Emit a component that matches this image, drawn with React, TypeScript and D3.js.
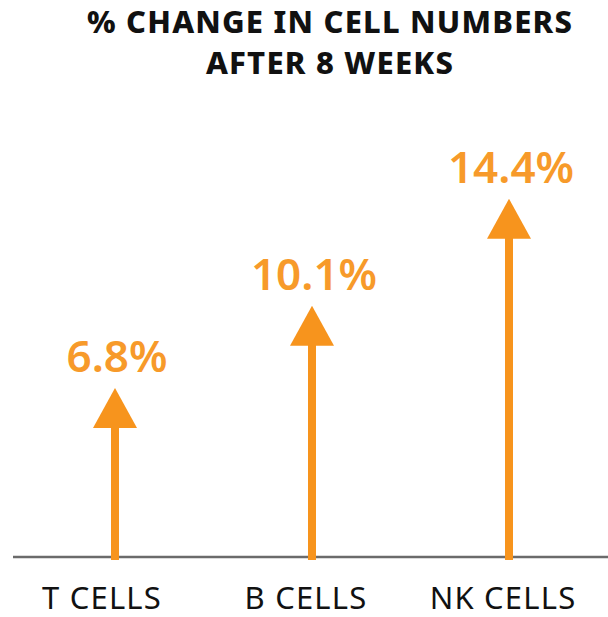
import React, { useEffect, useRef } from 'react';
import * as d3 from 'd3';

const categories = ['T CELLS', 'B CELLS', 'NK CELLS'];
const values = [6.8, 10.1, 14.4];
const valueLabels = ['6.8%', '10.1%', '14.4%'];
const titleLines = ['% CHANGE IN CELL NUMBERS', 'AFTER 8 WEEKS'];

const ORANGE = '#F7941D';

export default function App() {
  const svgRef = useRef<SVGSVGElement>(null);
  const width = 608;
  const height = 617;

  useEffect(() => {
    if (!svgRef.current) return;
    const svg = d3.select(svgRef.current);
    svg.selectAll('*').remove();

    const baseY = 557;

    // Scales
    const xScale = d3
      .scalePoint<string>()
      .domain(categories)
      .range([115, 509]);

    const yScale = d3
      .scaleLinear()
      .domain([0, 16])
      .range([baseY, baseY - 16 * 24.87]);

    // Title
    svg.append('g')
      .selectAll('text')
      .data(titleLines)
      .join('text')
      .attr('x', 330)
      .attr('y', (_, i) => 33 + i * 41)
      .attr('text-anchor', 'middle')
      .attr('font-family', "'Noto Sans', sans-serif")
      .attr('font-weight', 800)
      .attr('font-size', '31px')
      .attr('letter-spacing', '1.2px')
      .attr('fill', '#111')
      .text(d => d);

    // Baseline
    svg.append('line')
      .attr('x1', 13)
      .attr('x2', width)
      .attr('y1', baseY)
      .attr('y2', baseY)
      .attr('stroke', '#6b6b6b')
      .attr('stroke-width', 2.5);

    const headH = 40;
    const headW = 44;
    const shaftW = 8;

    const arrows = svg.append('g')
      .selectAll('g')
      .data(values)
      .join('g');

    // Shafts
    arrows.append('rect')
      .attr('x', (_, i) => xScale(categories[i])! - shaftW / 2)
      .attr('y', d => yScale(d) + headH - 2)
      .attr('width', shaftW)
      .attr('height', d => baseY + 3 - (yScale(d) + headH - 2))
      .attr('fill', ORANGE);

    // Heads
    arrows.append('path')
      .attr('d', (d, i) => {
        const x = xScale(categories[i])!;
        const y = yScale(d);
        return d3.line()([
          [x, y],
          [x + headW / 2, y + headH],
          [x - headW / 2, y + headH],
        ]) + 'Z';
      })
      .attr('fill', ORANGE);

    // Value labels
    arrows.append('text')
      .attr('x', (_, i) => xScale(categories[i])! + 2)
      .attr('y', d => yScale(d) - 16)
      .attr('text-anchor', 'middle')
      .attr('font-family', "'Noto Sans', sans-serif")
      .attr('font-weight', 600)
      .attr('font-size', '44px')
      .attr('fill', '#F79A2A')
      .text((_, i) => valueLabels[i]);

    // Category labels
    svg.append('g')
      .selectAll('text')
      .data(categories)
      .join('text')
      .attr('x', d => xScale(d)! - (d === 'T CELLS' ? 13 : 6))
      .attr('y', 609)
      .attr('text-anchor', 'middle')
      .attr('font-family', "'Noto Sans', sans-serif")
      .attr('font-weight', 400)
      .attr('font-size', '31px')
      .attr('letter-spacing', '1.2px')
      .attr('fill', '#111')
      .text(d => d);
  }, []);

  return (
    <svg
      ref={svgRef}
      width={width}
      height={height}
      style={{ position: 'absolute', left: 0, top: 0, background: '#fff' }}
    />
  );
}
